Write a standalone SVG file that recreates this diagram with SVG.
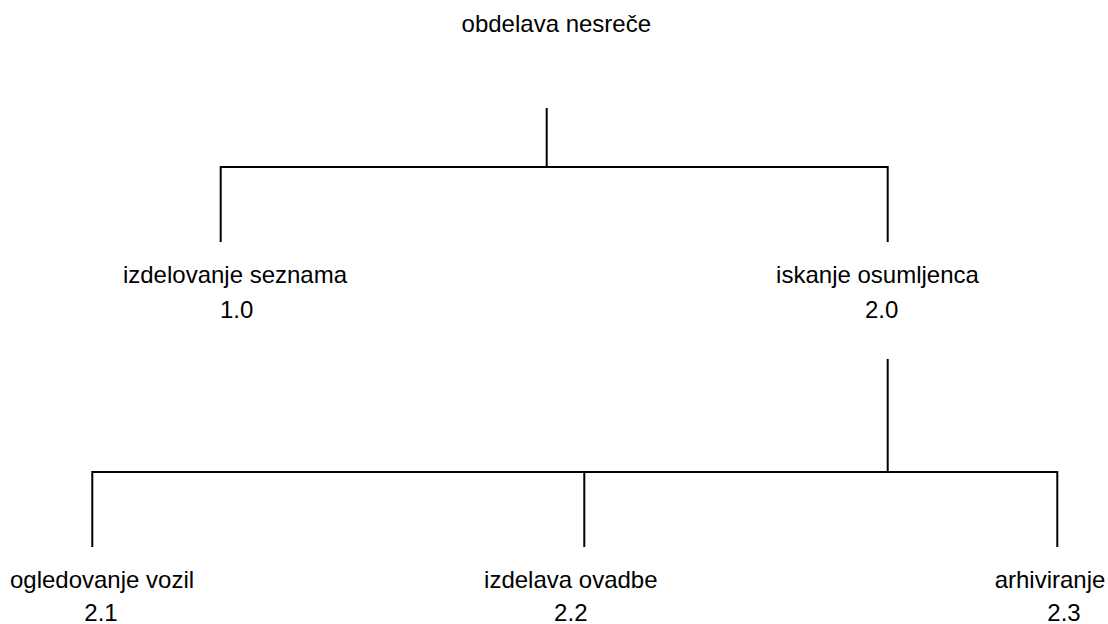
<svg xmlns="http://www.w3.org/2000/svg" width="1108" height="624" viewBox="0 0 1108 624">
<style>
text{font-family:"Liberation Sans",Arial,sans-serif;font-size:24px;fill:#000;text-anchor:middle}
.c{stroke:#000;stroke-width:2;fill:none}
</style>
<rect width="1108" height="624" fill="#fff"/>
<g id="connectors">
<path class="c" d="M546.7 108V167M220.7 242V167H887.7V242"/>
<path class="c" d="M887.7 359V472M92.3 547V472H1057.3V547M584.3 472V547"/>
</g>
<g id="n0"><text x="556.3" y="32">obdelava nesreče</text></g>
<g id="n1"><text x="235" y="283">izdelovanje seznama</text><text x="236.7" y="318">1.0</text></g>
<g id="n2"><text x="877.5" y="283">iskanje osumljenca</text><text x="881.7" y="318">2.0</text></g>
<g id="n21"><text x="102" y="588">ogledovanje vozil</text><text x="101" y="621">2.1</text></g>
<g id="n22"><text x="570.8" y="588">izdelava ovadbe</text><text x="570.8" y="621">2.2</text></g>
<g id="n23"><text x="1050" y="588">arhiviranje</text><text x="1064" y="621">2.3</text></g>
</svg>
